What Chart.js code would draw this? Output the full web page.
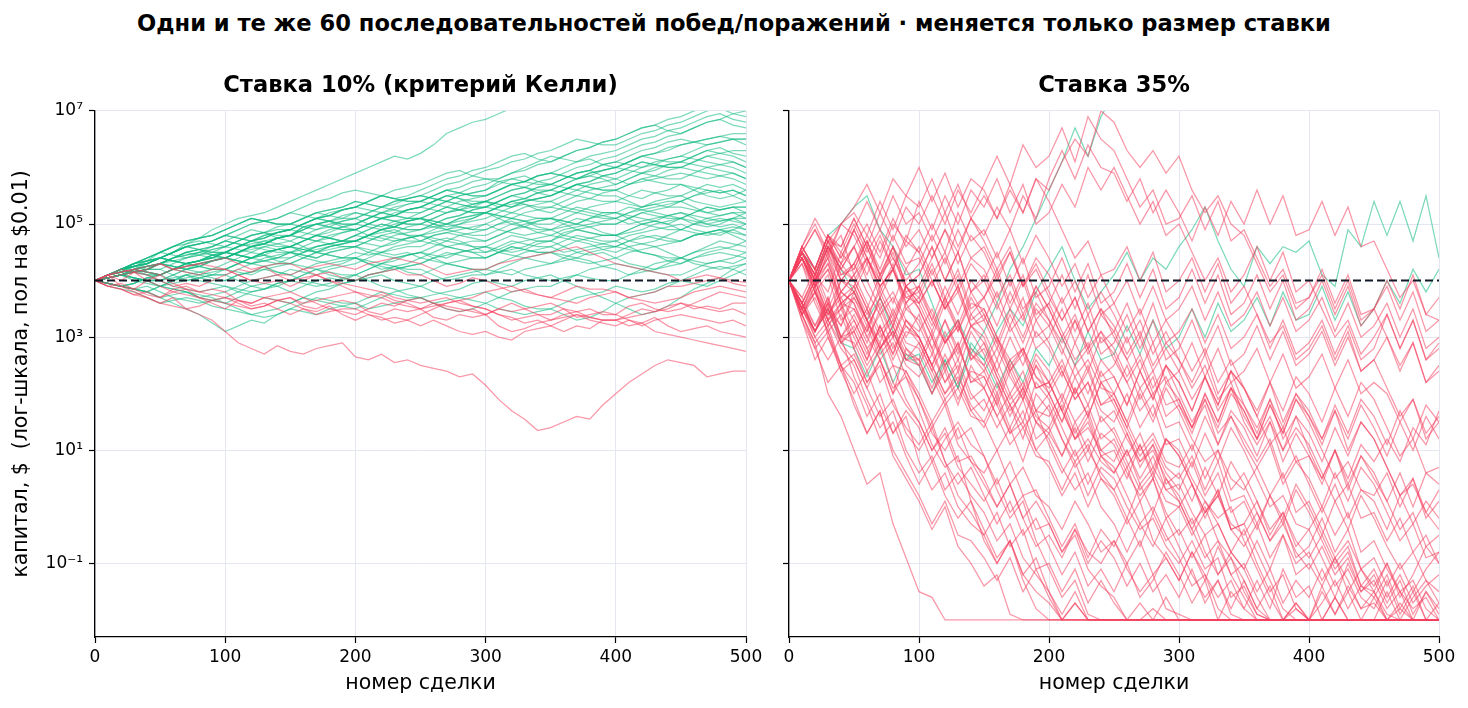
<!DOCTYPE html>
<html>
<head>
<meta charset="utf-8">
<script src="https://cdn.jsdelivr.net/npm/chart.js@4.4.1/dist/chart.umd.min.js"></script>
<style>
html,body{margin:0;padding:0;background:#fff;width:1468px;height:708px;overflow:hidden;}
#suptitle{position:absolute;left:0;top:8px;width:1468px;text-align:center;font-family:"DejaVu Sans";font-weight:bold;font-size:22.6px;line-height:30px;color:#000;white-space:nowrap;}
.wrap{position:absolute;top:60px;height:648px;}
#w1{left:0;width:772px;}
#w2{left:752px;width:716px;}
canvas{display:block;}
</style>
</head>
<body>
<div id="suptitle">Одни и те же 60 последовательностей побед/поражений · меняется только размер ставки</div>
<div class="wrap" id="w1"><canvas id="c1" width="772" height="648"></canvas></div>
<div class="wrap" id="w2"><canvas id="c2" width="716" height="648"></canvas></div>
<script>
// ---- data (read / estimated from the picture) ----
const tradeNumbers = [0,10,20,30,40,50,60,70,80,90,100,110,120,130,140,150,160,170,180,190,200,210,220,230,240,250,260,270,280,290,300,310,320,330,340,350,360,370,380,390,400,410,420,430,440,450,460,470,480,490,500];
const startCapital = 10000;
const yTickExponents = [-1, 1, 3, 5, 7];
const xTicks = [0,100,200,300,400,500];
const panelTitles = ["Ставка 10% (критерий Келли)", "Ставка 35%"];
const xLabel = "номер сделки";
const yLabel = "капитал, $  (лог-шкала, пол на $0.01)";

// log10 of capital at each trade in tradeNumbers, bet 10% (Kelly)
const kellyPaths = [
[4.0, 4.1,3.9,3.8,3.7,3.6, 3.7,3.5,3.4,3.3,3.1, 2.9,2.8,2.7,2.85,2.75, 2.7,2.8,2.85,2.9,2.65, 2.6,2.7,2.55,2.6,2.5, 2.45,2.4,2.3,2.35,2.15, 1.9,1.7,1.55,1.35,1.4, 1.5,1.6,1.55,1.8,2.0, 2.2,2.35,2.5,2.6,2.55, 2.5,2.3,2.35,2.4,2.4],
[4.0, 4.1,4.0,4.15,4.0,3.9, 3.8,3.85,3.7,3.6,3.5, 3.65,3.55,3.6,3.5,3.4, 3.5,3.45,3.55,3.4,3.3, 3.4,3.35,3.25,3.3,3.2, 3.3,3.2,3.1,3.05,3.1, 3.0,2.95,3.1,3.15,3.2, 3.1,3.2,3.15,3.3,3.3, 3.2,3.25,3.1,3.05,3.0, 2.95,2.9,2.85,2.8,2.75],
[4.0, 3.9,3.85,3.75,3.8,3.7, 3.85,3.9,3.8,3.85,3.8, 3.65,3.6,3.7,3.65,3.7, 3.55,3.5,3.6,3.65,3.6, 3.45,3.4,3.5,3.45,3.5, 3.35,3.3,3.4,3.35,3.4, 3.2,3.1,3.15,3.25,3.3, 3.35,3.4,3.3,3.25,3.2, 3.3,3.25,3.35,3.2,3.1, 3.15,3.2,3.1,3.05,3.0],
[4.0, 4.1,4.15,4.2,4.25,4.3, 4.2,4.15,4.1,4.2,4.2, 4.1,4.0,3.95,4.0,3.9, 4.0,4.1,4.0,3.9,3.8, 3.75,3.7,3.6,3.55,3.5, 3.6,3.55,3.5,3.45,3.4, 3.5,3.45,3.5,3.55,3.6, 3.5,3.35,3.4,3.45,3.4, 3.3,3.2,3.3,3.35,3.4, 3.35,3.3,3.25,3.3,3.2],
[4.0, 3.9,3.95,3.85,4.0,4.1, 3.95,3.85,3.8,3.75,3.7, 3.6,3.5,3.55,3.65,3.6, 3.5,3.4,3.45,3.5,3.5, 3.4,3.3,3.35,3.3,3.4, 3.5,3.6,3.65,3.55,3.5, 3.4,3.35,3.25,3.3,3.2, 3.3,3.4,3.35,3.3,3.3, 3.4,3.5,3.45,3.55,3.6, 3.55,3.5,3.45,3.5,3.4],
[4.0, 4.1,4.2,4.15,4.1,4.0, 3.9,3.95,3.9,4.0,4.1, 4.2,4.15,4.25,4.1,4.0, 4.05,4.1,4.0,3.95,3.9, 3.85,3.8,3.7,3.65,3.6, 3.65,3.7,3.6,3.55,3.5, 3.4,3.3,3.35,3.4,3.4, 3.5,3.45,3.35,3.3,3.3, 3.35,3.4,3.45,3.5,3.6, 3.5,3.55,3.5,3.6,3.6],
[4.0, 3.9,3.85,3.75,3.7,3.6, 3.55,3.5,3.55,3.65,3.7, 3.65,3.6,3.7,3.75,3.8, 3.7,3.6,3.5,3.45,3.4, 3.5,3.6,3.55,3.65,3.7, 3.6,3.5,3.45,3.5,3.4, 3.5,3.6,3.5,3.4,3.3, 3.4,3.45,3.5,3.4,3.4, 3.55,3.6,3.5,3.45,3.5, 3.6,3.7,3.8,3.75,3.7],
[4.0, 4.05,4.1,4.15,4.2,4.3, 4.2,4.25,4.3,4.35,4.4, 4.3,4.2,4.25,4.3,4.3, 4.2,4.1,4.15,4.05,4.0, 4.1,4.15,4.2,4.1,4.1, 4.0,3.9,3.95,4.05,4.0, 3.9,3.8,3.85,3.75,3.7, 3.8,3.9,3.85,3.85,3.8, 3.7,3.65,3.6,3.65,3.7, 3.8,3.85,3.9,3.85,3.8],
[4.0, 3.95,3.9,3.85,3.75,3.7, 3.8,3.75,3.7,3.65,3.6, 3.55,3.5,3.55,3.65,3.7, 3.6,3.65,3.7,3.75,3.8, 3.7,3.75,3.65,3.6,3.5, 3.55,3.6,3.65,3.7,3.8, 3.85,3.9,3.8,3.75,3.7, 3.65,3.6,3.7,3.75,3.8, 3.7,3.75,3.8,3.9,3.9, 3.95,4.0,4.05,3.95,3.9],
[4.0, 4.1,4.15,4.2,4.15,4.1, 4.2,4.25,4.3,4.25,4.2, 4.1,4.0,4.05,4.1,4.1, 4.2,4.25,4.3,4.25,4.2, 4.3,4.35,4.4,4.35,4.3, 4.2,4.1,4.15,4.2,4.2, 4.3,4.35,4.4,4.45,4.5, 4.55,4.6,4.5,4.4,4.3, 4.25,4.2,4.15,4.1,4.0, 4.05,4.1,4.05,4.0,3.97],
[4.0, 3.95,3.9,3.85,3.8,3.7, 3.6,3.5,3.4,3.25,3.1, 3.2,3.3,3.25,3.4,3.5, 3.45,3.4,3.5,3.55,3.6, 3.5,3.55,3.6,3.65,3.7, 3.6,3.65,3.7,3.75,3.8, 3.7,3.65,3.55,3.5,3.5, 3.6,3.7,3.75,3.8,3.9, 3.85,3.8,3.85,3.95,4.0, 4.1,4.2,4.25,4.2,4.1],
[4.0, 3.9,3.85,3.8,3.7,3.6, 3.65,3.7,3.65,3.55,3.5, 3.45,3.4,3.45,3.5,3.6, 3.7,3.65,3.6,3.55,3.5, 3.6,3.7,3.8,3.85,3.9, 3.8,3.75,3.7,3.65,3.6, 3.5,3.45,3.4,3.45,3.5, 3.4,3.3,3.35,3.45,3.6, 3.7,3.75,3.8,3.9,4.0, 3.95,3.9,4.0,4.1,4.2],
[4.0, 4.1,4.15,4.2,4.1,4.0, 4.05,4.1,4.0,3.95,3.9, 3.85,3.8,3.85,3.95,4.0, 4.1,4.2,4.15,4.1,4.1, 4.0,3.9,3.85,3.75,3.7, 3.75,3.8,3.85,3.95,4.0, 3.95,3.9,4.0,4.05,4.1, 4.0,3.9,3.8,3.7,3.6, 3.5,3.4,3.45,3.55,3.7, 3.85,3.95,4.05,4.2,4.3],
[4.0, 4.05,4.1,4.15,4.2,4.3, 4.4,4.45,4.5,4.45,4.4, 4.5,4.55,4.6,4.55,4.5, 4.4,4.35,4.3,4.35,4.4, 4.3,4.25,4.2,4.25,4.3, 4.4,4.45,4.5,4.55,4.6, 4.5,4.45,4.4,4.35,4.3, 4.4,4.5,4.45,4.5,4.4, 4.3,4.25,4.2,4.3,4.4, 4.3,4.25,4.2,4.25,4.3],
[4.0, 3.95,3.9,3.95,4.05,4.0, 3.9,3.85,3.8,3.85,3.9, 3.8,3.75,3.7,3.65,3.6, 3.7,3.8,3.85,3.95,4.0, 4.05,4.1,4.0,3.95,3.9, 4.0,4.05,4.1,4.15,4.2, 4.15,4.1,4.2,4.25,4.3, 4.35,4.4,4.35,4.25,4.2, 4.1,4.15,4.2,4.25,4.3, 4.4,4.45,4.5,4.45,4.4],
[4.0, 4.1,4.15,4.25,4.35,4.4, 4.35,4.3,4.35,4.45,4.5, 4.6,4.65,4.7,4.65,4.6, 4.7,4.8,4.75,4.7,4.7, 4.8,4.85,4.9,4.8,4.7, 4.65,4.6,4.55,4.5,4.4, 4.5,4.6,4.55,4.5,4.5, 4.4,4.35,4.3,4.35,4.4, 4.5,4.55,4.6,4.5,4.4, 4.35,4.3,4.35,4.4,4.5],
[4.0, 3.95,3.9,3.85,3.8,3.9, 4.0,4.1,4.05,4.0,4.0, 4.1,4.15,4.2,4.15,4.1, 4.0,3.95,3.9,3.95,4.0, 4.1,4.15,4.25,4.3,4.4, 4.35,4.3,4.25,4.2,4.1, 4.15,4.2,4.1,4.05,4.0, 4.05,4.1,4.2,4.25,4.3, 4.25,4.2,4.3,4.35,4.4, 4.5,4.55,4.6,4.55,4.5],
[4.0, 4.05,4.1,4.05,4.0,3.9, 3.95,4.0,4.05,4.1,4.2, 4.3,4.4,4.45,4.35,4.3, 4.4,4.5,4.45,4.4,4.4, 4.3,4.2,4.25,4.15,4.1, 4.2,4.3,4.25,4.2,4.2, 4.3,4.4,4.5,4.55,4.6, 4.5,4.55,4.6,4.65,4.7, 4.6,4.5,4.45,4.4,4.4, 4.5,4.6,4.7,4.65,4.6],
[4.0, 4.1,4.15,4.2,4.15,4.1, 4.2,4.25,4.3,4.35,4.4, 4.35,4.3,4.35,4.4,4.5, 4.45,4.4,4.5,4.55,4.6, 4.7,4.8,4.75,4.7,4.7, 4.8,4.85,4.9,4.95,5.0, 4.9,4.85,4.8,4.85,4.9, 4.8,4.75,4.7,4.65,4.6, 4.7,4.75,4.8,4.75,4.7, 4.8,4.85,4.9,4.8,4.7],
[4.0, 3.95,3.9,3.85,3.9,3.8, 3.7,3.65,3.6,3.65,3.7, 3.8,3.9,3.85,3.9,3.8, 3.9,4.0,4.05,4.0,4.1, 4.2,4.3,4.25,4.2,4.2, 4.1,4.0,4.05,4.1,4.1, 4.2,4.3,4.4,4.45,4.5, 4.45,4.4,4.5,4.55,4.6, 4.55,4.5,4.45,4.35,4.3, 4.4,4.5,4.55,4.6,4.7],
[4.0, 4.05,4.1,4.2,4.25,4.3, 4.25,4.2,4.25,4.35,4.4, 4.35,4.3,4.25,4.15,4.1, 4.2,4.3,4.35,4.4,4.5, 4.45,4.5,4.55,4.6,4.6, 4.7,4.75,4.7,4.6,4.5, 4.55,4.65,4.7,4.75,4.8, 4.75,4.7,4.65,4.55,4.5, 4.6,4.65,4.7,4.8,4.9, 4.85,4.8,4.85,4.9,4.8],
[4.0, 4.1,4.2,4.15,4.2,4.3, 4.35,4.4,4.5,4.55,4.6, 4.7,4.8,4.85,4.75,4.7, 4.6,4.5,4.55,4.6,4.6, 4.5,4.45,4.4,4.45,4.5, 4.4,4.3,4.35,4.4,4.4, 4.5,4.6,4.55,4.5,4.5, 4.6,4.7,4.75,4.8,4.8, 4.7,4.65,4.6,4.65,4.7, 4.8,4.85,4.9,4.85,4.8],
[4.0, 3.95,3.9,3.95,4.05,4.1, 4.0,4.05,4.1,4.15,4.2, 4.15,4.1,4.2,4.25,4.3, 4.25,4.2,4.1,4.05,4.0, 4.1,4.15,4.2,4.25,4.3, 4.4,4.5,4.45,4.4,4.4, 4.5,4.55,4.6,4.7,4.7, 4.6,4.5,4.55,4.6,4.6, 4.7,4.8,4.75,4.7,4.7, 4.8,4.85,4.9,4.95,4.9],
[4.0, 4.05,4.1,4.05,4.0,4.0, 4.1,4.2,4.15,4.1,4.1, 4.2,4.3,4.35,4.4,4.5, 4.55,4.6,4.65,4.7,4.8, 4.75,4.7,4.8,4.85,4.9, 4.95,5.0,5.05,5.1,5.2, 5.15,5.1,5.05,4.95,4.9, 4.95,5.0,4.95,4.85,4.8, 4.85,4.9,5.0,5.05,5.1, 5.05,5.0,4.95,5.0,4.9],
[4.0, 4.1,4.15,4.2,4.3,4.4, 4.35,4.3,4.35,4.4,4.5, 4.45,4.4,4.5,4.55,4.6, 4.5,4.55,4.6,4.65,4.7, 4.65,4.6,4.7,4.75,4.8, 4.75,4.7,4.8,4.85,4.9, 5.0,5.05,4.95,4.85,4.8, 4.9,4.95,5.0,5.05,5.1, 5.0,5.05,5.1,5.15,5.2, 5.15,5.1,5.05,5.1,5.0],
[4.0, 3.95,3.9,3.85,3.8,3.9, 3.85,3.8,3.7,3.75,3.8, 3.9,4.0,4.05,4.1,4.2, 4.15,4.1,4.2,4.25,4.3, 4.4,4.5,4.45,4.5,4.4, 4.5,4.6,4.55,4.5,4.5, 4.6,4.7,4.65,4.6,4.6, 4.7,4.8,4.75,4.7,4.7, 4.8,4.85,4.9,4.95,5.0, 4.9,4.85,4.8,4.9,5.0],
[4.0, 4.05,4.1,4.2,4.25,4.3, 4.4,4.45,4.5,4.6,4.7, 4.65,4.6,4.65,4.75,4.8, 4.9,5.0,5.05,4.95,4.9, 4.8,4.75,4.7,4.75,4.8, 4.7,4.6,4.65,4.7,4.7, 4.8,4.9,4.95,5.05,5.1, 5.05,5.0,5.1,5.15,5.2, 5.15,5.1,5.05,5.0,4.9, 5.0,5.05,5.1,5.05,5.0],
[4.0, 4.1,4.15,4.2,4.15,4.1, 4.2,4.3,4.25,4.2,4.2, 4.3,4.4,4.35,4.3,4.3, 4.4,4.5,4.45,4.4,4.4, 4.5,4.6,4.65,4.75,4.8, 4.85,4.9,4.85,4.8,4.8, 4.9,5.0,4.95,4.9,4.9, 5.0,5.1,5.05,5.0,5.0, 5.1,5.2,5.25,5.3,5.3, 5.25,5.2,5.15,5.2,5.1],
[4.0, 4.05,4.1,4.15,4.2,4.2, 4.1,4.0,4.05,4.1,4.1, 4.0,3.9,3.95,3.9,4.0, 4.1,4.2,4.25,4.3,4.4, 4.35,4.3,4.4,4.45,4.5, 4.6,4.7,4.65,4.6,4.6, 4.7,4.8,4.75,4.7,4.7, 4.85,4.9,4.85,4.8,4.8, 4.9,5.0,5.05,5.15,5.2, 5.1,5.0,5.05,5.1,5.1],
[4.0, 4.1,4.2,4.3,4.35,4.5, 4.6,4.65,4.7,4.65,4.6, 4.7,4.8,4.85,4.9,4.9, 5.0,5.1,5.05,5.0,5.0, 5.1,5.2,5.15,5.1,5.1, 5.0,4.9,4.95,4.9,5.0, 5.1,5.2,5.15,5.1,5.1, 5.2,5.3,5.25,5.2,5.2, 5.1,5.0,5.05,5.0,5.1, 5.2,5.3,5.25,5.3,5.2],
[4.0, 4.05,4.1,4.05,4.0,4.0, 4.1,4.2,4.3,4.35,4.4, 4.35,4.3,4.4,4.45,4.5, 4.45,4.4,4.5,4.55,4.6, 4.55,4.5,4.6,4.65,4.7, 4.8,4.85,4.8,4.75,4.7, 4.8,4.9,5.0,5.05,5.1, 5.05,5.0,5.1,5.2,5.2, 5.3,5.25,5.2,5.15,5.1, 5.0,4.95,5.0,5.1,5.2],
[4.0, 4.1,4.2,4.3,4.35,4.4, 4.5,4.6,4.55,4.5,4.5, 4.6,4.7,4.75,4.85,4.9, 4.85,4.8,4.9,4.95,5.0, 4.95,4.9,5.0,5.05,5.1, 5.2,5.3,5.25,5.2,5.2, 5.1,5.0,5.05,5.1,5.1, 5.0,4.9,4.95,5.0,5.0, 5.1,5.2,5.15,5.1,5.1, 5.2,5.3,5.25,5.3,5.3],
[4.0, 3.95,3.9,3.95,4.05,4.1, 4.2,4.3,4.25,4.2,4.2, 4.3,4.4,4.45,4.55,4.6, 4.55,4.5,4.6,4.65,4.7, 4.8,4.9,4.85,4.8,4.8, 4.9,5.0,4.95,4.9,4.9, 5.0,5.1,5.05,5.0,5.0, 5.1,5.2,5.15,5.1,5.1, 5.2,5.3,5.35,5.4,5.4, 5.3,5.2,5.25,5.3,5.3],
[4.0, 4.1,4.2,4.15,4.1,4.1, 4.2,4.3,4.35,4.4,4.5, 4.45,4.4,4.5,4.55,4.6, 4.7,4.8,4.75,4.7,4.7, 4.8,4.9,4.95,5.05,5.1, 5.05,5.0,5.1,5.15,5.2, 5.15,5.1,5.2,5.25,5.3, 5.25,5.2,5.3,5.35,5.4, 5.35,5.3,5.4,5.45,5.5, 5.4,5.35,5.3,5.35,5.4],
[4.0, 4.1,4.15,4.2,4.25,4.3, 4.2,4.15,4.1,4.05,4.0, 4.1,4.15,4.25,4.3,4.4, 4.5,4.6,4.65,4.7,4.8, 4.9,5.0,4.95,4.9,4.9, 5.0,5.1,5.15,5.25,5.3, 5.25,5.2,5.3,5.35,5.4, 5.3,5.25,5.2,5.15,5.1, 5.2,5.25,5.3,5.35,5.4, 5.5,5.55,5.6,5.5,5.4],
[4.0, 4.1,4.2,4.3,4.4,4.5, 4.45,4.4,4.45,4.5,4.6, 4.7,4.8,4.85,4.95,5.0, 4.95,4.9,5.0,5.05,5.1, 5.2,5.3,5.25,5.2,5.2, 5.3,5.4,5.35,5.3,5.3, 5.4,5.5,5.45,5.4,5.4, 5.5,5.6,5.55,5.5,5.5, 5.4,5.3,5.35,5.3,5.4, 5.5,5.6,5.55,5.6,5.5],
[4.0, 4.1,4.15,4.2,4.15,4.1, 4.2,4.25,4.3,4.35,4.4, 4.5,4.6,4.55,4.5,4.5, 4.6,4.7,4.65,4.6,4.6, 4.7,4.8,4.85,4.95,5.0, 4.95,4.9,5.0,5.05,5.1, 5.2,5.3,5.35,5.25,5.2, 5.3,5.4,5.45,5.55,5.6, 5.5,5.45,5.55,5.6,5.7, 5.65,5.6,5.55,5.6,5.5],
[4.0, 4.05,4.1,4.15,4.2,4.3, 4.4,4.5,4.55,4.6,4.7, 4.8,4.9,4.85,4.8,4.8, 4.9,5.0,5.05,5.1,5.2, 5.15,5.1,5.2,5.25,5.3, 5.25,5.2,5.3,5.35,5.4, 5.35,5.3,5.4,5.45,5.5, 5.6,5.7,5.65,5.6,5.6, 5.7,5.8,5.75,5.7,5.7, 5.6,5.5,5.45,5.5,5.6],
[4.0, 4.1,4.2,4.3,4.35,4.4, 4.35,4.3,4.35,4.45,4.5, 4.6,4.7,4.65,4.6,4.6, 4.7,4.8,4.85,4.95,5.0, 5.1,5.2,5.15,5.1,5.1, 5.0,4.95,5.0,5.1,5.2, 5.3,5.4,5.35,5.3,5.3, 5.4,5.5,5.45,5.4,5.4, 5.5,5.6,5.55,5.5,5.5, 5.6,5.7,5.65,5.7,5.6],
[4.0, 4.1,4.2,4.25,4.2,4.2, 4.3,4.4,4.45,4.55,4.6, 4.55,4.5,4.6,4.65,4.7, 4.8,4.9,4.95,5.05,5.1, 5.0,4.95,5.05,5.1,5.2, 5.3,5.4,5.35,5.3,5.3, 5.4,5.5,5.55,5.65,5.7, 5.65,5.6,5.7,5.75,5.8, 5.7,5.75,5.8,5.85,5.9, 5.85,5.8,5.85,5.8,5.7],
[4.0, 4.1,4.15,4.25,4.3,4.4, 4.5,4.6,4.65,4.7,4.8, 4.9,5.0,5.05,5.1,5.2, 5.15,5.1,5.2,5.25,5.3, 5.4,5.5,5.45,5.4,5.4, 5.5,5.6,5.55,5.5,5.5, 5.6,5.7,5.65,5.6,5.6, 5.7,5.8,5.85,5.8,5.7, 5.8,5.9,5.85,5.8,5.8, 5.9,6.0,5.95,5.9,5.8],
[4.0, 4.05,4.1,4.2,4.25,4.3, 4.4,4.5,4.55,4.45,4.4, 4.5,4.6,4.65,4.75,4.8, 4.95,5.0,4.95,4.9,4.9, 5.0,5.1,5.15,5.25,5.3, 5.4,5.5,5.45,5.35,5.4, 5.3,5.35,5.4,5.45,5.5, 5.6,5.7,5.65,5.6,5.6, 5.7,5.8,5.85,5.95,6.0, 5.95,5.9,5.85,5.9,5.8],
[4.0, 4.1,4.2,4.25,4.3,4.4, 4.5,4.6,4.65,4.7,4.8, 4.75,4.7,4.8,4.85,4.9, 5.0,5.1,5.15,5.25,5.3, 5.25,5.2,5.3,5.35,5.4, 5.5,5.6,5.55,5.5,5.5, 5.6,5.7,5.75,5.85,5.9, 5.85,5.8,5.9,5.95,6.0, 5.95,5.9,6.0,6.05,6.1, 6.05,6.0,6.05,6.0,5.9],
[4.0, 4.1,4.2,4.3,4.4,4.5, 4.6,4.7,4.75,4.8,4.9, 5.0,5.1,5.05,5.0,5.0, 5.1,5.2,5.25,5.3,5.4, 5.35,5.3,5.4,5.45,5.5, 5.45,5.4,5.5,5.55,5.6, 5.7,5.8,5.85,5.75,5.7, 5.8,5.9,5.95,5.85,5.8, 5.9,6.0,6.05,6.15,6.2, 6.15,6.1,6.05,6.1,6.0],
[4.0, 4.05,4.1,4.15,4.2,4.3, 4.25,4.2,4.25,4.35,4.4, 4.5,4.6,4.65,4.75,4.8, 4.75,4.7,4.75,4.85,4.9, 5.0,5.1,5.05,5.0,5.0, 5.1,5.2,5.25,5.3,5.4, 5.5,5.6,5.65,5.55,5.5, 5.6,5.7,5.75,5.85,5.9, 6.0,6.1,6.05,6.0,6.0, 6.1,6.2,6.15,6.1,6.0],
[4.0, 4.1,4.2,4.25,4.3,4.4, 4.5,4.6,4.55,4.5,4.5, 4.6,4.7,4.75,4.85,4.9, 5.0,5.1,5.05,5.0,5.0, 5.1,5.2,5.25,5.35,5.4, 5.35,5.3,5.4,5.45,5.5, 5.6,5.7,5.75,5.85,5.9, 5.85,5.8,5.9,5.95,6.0, 6.1,6.2,6.15,6.1,6.1, 6.2,6.3,6.25,6.2,6.1],
[4.0, 4.1,4.15,4.2,4.15,4.1, 4.2,4.3,4.35,4.4,4.5, 4.45,4.4,4.5,4.55,4.6, 4.7,4.8,4.75,4.7,4.7, 4.8,4.9,4.95,5.05,5.1, 5.05,5.0,5.1,5.15,5.2, 5.3,5.4,5.45,5.55,5.6, 5.55,5.5,5.6,5.65,5.7, 5.8,5.9,5.95,6.05,6.1, 6.2,6.3,6.35,6.25,6.2],
[4.0, 4.05,4.1,4.15,4.2,4.3, 4.4,4.5,4.45,4.4,4.4, 4.5,4.6,4.65,4.75,4.8, 4.75,4.7,4.8,4.85,4.9, 5.0,5.1,5.05,5.0,5.0, 5.1,5.2,5.25,5.35,5.4, 5.35,5.3,5.4,5.45,5.5, 5.6,5.7,5.75,5.85,5.9, 6.0,6.1,6.05,6.0,6.0, 6.1,6.2,6.25,6.3,6.3],
[4.0, 4.1,4.2,4.25,4.3,4.4, 4.5,4.6,4.65,4.7,4.8, 4.9,5.0,5.05,5.1,5.2, 5.3,5.4,5.45,5.55,5.6, 5.55,5.5,5.6,5.65,5.7, 5.8,5.9,5.95,5.85,5.8, 5.75,5.7,5.75,5.85,5.9, 6.0,6.1,6.15,6.05,6.0, 6.1,6.2,6.25,6.3,6.4, 6.45,6.5,6.55,6.5,6.4],
[4.0, 4.05,4.1,4.0,3.95,3.9, 4.0,4.1,4.15,4.2,4.3, 4.4,4.5,4.45,4.4,4.4, 4.5,4.6,4.65,4.7,4.8, 4.9,5.0,4.95,4.9,4.9, 5.0,5.1,5.15,5.25,5.3, 5.4,5.5,5.55,5.65,5.7, 5.8,5.9,5.95,6.05,6.1, 6.05,6.0,6.1,6.15,6.2, 6.3,6.4,6.45,6.5,6.5],
[4.0, 4.1,4.2,4.3,4.4,4.5, 4.6,4.7,4.75,4.8,4.9, 5.0,5.1,5.05,5.0,5.0, 5.1,5.2,5.25,5.3,5.4, 5.35,5.3,5.4,5.45,5.5, 5.45,5.4,5.5,5.55,5.6, 5.75,5.8,5.75,5.7,5.7, 5.8,5.9,5.95,6.05,6.1, 6.2,6.3,6.35,6.45,6.5, 6.45,6.4,6.45,6.5,6.5],
[4.0, 4.1,4.2,4.15,4.1,4.1, 4.2,4.3,4.35,4.4,4.5, 4.45,4.4,4.5,4.55,4.6, 4.55,4.5,4.6,4.65,4.7, 4.8,4.9,4.95,5.05,5.1, 5.2,5.3,5.25,5.2,5.2, 5.3,5.4,5.45,5.55,5.6, 5.7,5.8,5.85,5.95,6.0, 6.1,6.2,6.25,6.35,6.4, 6.45,6.5,6.55,6.6,6.6],
[4.0, 4.05,4.1,4.2,4.25,4.3, 4.4,4.5,4.55,4.6,4.7, 4.65,4.6,4.7,4.75,4.8, 4.95,5.0,4.95,4.9,4.9, 5.0,5.1,5.15,5.25,5.3, 5.4,5.5,5.45,5.4,5.4, 5.5,5.6,5.65,5.75,5.8, 5.9,6.0,6.05,6.15,6.2, 6.3,6.4,6.45,6.55,6.6, 6.7,6.8,6.85,6.75,6.7],
[4.0, 4.1,4.2,4.25,4.3,4.4, 4.35,4.3,4.35,4.45,4.5, 4.6,4.7,4.75,4.85,4.9, 5.0,5.1,5.15,5.25,5.3, 5.4,5.5,5.45,5.4,5.4, 5.5,5.6,5.65,5.75,5.8, 5.8,5.9,6.0,6.1,6.2, 6.15,6.1,6.2,6.25,6.3, 6.4,6.5,6.55,6.65,6.7, 6.8,6.9,6.95,6.85,6.8],
[4.0, 4.1,4.2,4.3,4.4,4.5, 4.6,4.7,4.75,4.8,4.9, 5.0,5.1,5.05,5.0,5.0, 5.1,5.2,5.15,5.1,5.1, 5.2,5.3,5.35,5.45,5.5, 5.6,5.7,5.75,5.85,5.95, 6.0,6.1,6.15,6.25,6.3, 6.4,6.5,6.45,6.4,6.4, 6.5,6.6,6.65,6.75,6.8, 6.9,7.0,7.05,6.95,6.9],
[4.0, 4.1,4.2,4.25,4.3,4.4, 4.5,4.6,4.65,4.7,4.8, 4.75,4.7,4.8,4.85,4.9, 5.0,5.1,5.15,5.25,5.3, 5.4,5.5,5.45,5.5,5.6, 5.7,5.8,5.85,5.95,6.0, 6.1,6.2,6.25,6.15,6.1, 6.2,6.3,6.35,6.45,6.5, 6.6,6.7,6.75,6.65,6.6, 6.7,6.8,6.85,6.95,7.0],
[4.0, 4.05,4.1,4.15,4.2,4.3, 4.25,4.2,4.25,4.35,4.4, 4.5,4.6,4.65,4.75,4.8, 4.9,5.0,5.05,5.15,5.2, 5.15,5.1,5.15,5.25,5.3, 5.4,5.5,5.55,5.65,5.7, 5.8,5.9,5.95,6.05,6.1, 6.2,6.3,6.35,6.45,6.5, 6.6,6.7,6.75,6.85,6.9, 7.0,7.05,7.1,7.15,7.1],
[4.0, 3.95,3.9,3.85,3.8,3.7, 3.75,3.8,3.75,3.7,3.6, 3.7,3.8,3.85,3.95,4.0, 3.95,3.9,3.95,4.05,4.1, 4.2,4.3,4.35,4.45,4.5, 4.45,4.4,4.5,4.55,4.6, 4.55,4.5,4.55,4.65,4.7, 4.8,4.9,4.85,4.8,4.8, 4.9,5.0,4.95,4.9,4.9, 5.0,5.1,5.15,5.2,5.2],
[4.0, 4.05,4.1,4.05,4.0,3.9, 3.85,3.8,3.7,3.65,3.6, 3.5,3.4,3.35,3.4,3.5, 3.6,3.7,3.65,3.6,3.6, 3.7,3.8,3.75,3.7,3.7, 3.6,3.5,3.45,3.5,3.6, 3.7,3.8,3.85,3.9,3.9, 4.0,4.1,4.05,4.0,4.0, 4.1,4.2,4.15,4.1,4.1, 4.2,4.3,4.35,4.3,4.4],
[4.0, 4.1,4.2,4.25,4.35,4.4, 4.5,4.65,4.75,4.9,5.0, 5.1,5.15,5.2,5.3,5.4, 5.5,5.6,5.7,5.8,5.9, 6.0,6.1,6.2,6.15,6.25, 6.4,6.6,6.7,6.8,6.85, 6.95,7.05,7.1,7.2,7.3, 7.4,7.45,7.5,7.55,7.6, 7.7,7.75,7.8,7.85,7.9, 7.95,8.0,8.0,8.05,8.0]
];

// log10 of capital at each trade in tradeNumbers, bet 35% (shown with a floor at $0.01 = 10^-2)
const bet35Paths = [
[4.0, 3.4,2.9,2.0,1.6,1.0, 0.4,0.6,-0.3,-0.9,-1.5, -1.6,-2,-2,-2,-2, -2,-2,-2,-2,-2, -2,-2,-2,-2,-2, -2,-2,-2,-2,-2, -2,-2,-2,-2,-2, -2,-2,-2,-2,-2, -2,-2,-2,-2,-2, -2,-2,-2,-2,-2],
[4.0, 3.5,3.9,3.0,2.4,1.9, 1.3,1.7,0.9,0.5,0.1, -0.4,0.0,-0.7,-1.0,-1.4, -1.2,-1.9,-2,-2,-2, -2,-2,-2,-2,-2, -2,-2,-2,-2,-2, -2,-2,-2,-2,-2, -2,-2,-2,-2,-2, -2,-2,-2,-2,-2, -2,-2,-2,-2,-2],
[4.0, 4.3,3.6,3.1,3.4,2.8, 2.2,2.5,1.8,1.4,1.1, 1.5,0.8,0.2,-0.1,-0.5, -1.0,-0.6,-1.3,-1.8,-2, -2,-2,-2,-2,-2, -2,-2,-2,-2,-2, -2,-2,-2,-2,-2, -2,-2,-2,-2,-2, -2,-2,-2,-2,-2, -2,-2,-2,-2,-2],
[4.0, 3.3,2.6,3.0,2.5,2.2, 1.6,2.0,1.3,1.7,1.4, 0.8,1.2,1.5,1.1,0.9, 0.3,-0.2,0.1,-0.6,-1.1, -1.6,-1.3,-1.9,-2,-2, -2,-2,-2,-2,-2, -2,-2,-2,-2,-2, -2,-2,-2,-2,-2, -2,-2,-2,-2,-2, -2,-2,-2,-2,-2],
[4.0, 3.6,3.0,3.3,2.8,2.5, 1.9,1.4,1.7,1.0,0.6, 0.9,0.3,0.6,0.2,-0.1, -0.6,-0.3,-0.9,-1.2,-1.5, -2,-1.7,-2,-2,-2, -2,-2,-2,-2,-2, -2,-2,-2,-2,-2, -2,-2,-2,-2,-2, -2,-2,-2,-2,-2, -2,-2,-2,-2,-2],
[4.0, 4.4,3.8,3.4,3.7,3.3, 2.8,2.2,2.5,1.9,1.5, 1.0,1.3,0.7,0.4,0.1, 0.5,-0.1,0.2,-0.4,-0.3, -0.8,-0.5,-1.1,-1.4,-1.6, -2,-2,-2,-2,-2, -2,-2,-2,-2,-2, -2,-2,-2,-2,-2, -2,-2,-2,-2,-2, -2,-2,-2,-2,-2],
[4.0, 3.5,4.0,3.4,3.8,3.6, 3.0,2.6,2.1,2.3,1.7, 1.1,0.7,0.9,0.1,-0.4, -0.9,-0.6,-1.2,-1.5,-1.7, -2,-2,-2,-2,-2, -2,-2,-2,-2,-2, -2,-2,-2,-2,-2, -2,-2,-2,-2,-2, -2,-2,-2,-2,-2, -2,-2,-2,-2,-2],
[4.0, 3.4,3.7,3.1,2.5,2.7, 2.2,2.6,2.0,2.4,1.9, 1.3,1.0,1.4,0.8,0.4, 0.0,0.4,-0.2,-0.7,-0.5, -0.9,-0.4,-0.8,-1.0,-0.6, -1.1,-1.5,-1.2,-1.8,-1.9, -2,-2,-2,-2,-2, -2,-2,-2,-2,-2, -2,-2,-2,-2,-2, -2,-2,-2,-2,-2],
[4.0, 4.3,3.8,4.1,3.3,3.5, 3.0,3.4,2.8,3.2,2.9, 2.4,2.9,3.3,2.6,2.9, 2.3,1.8,1.4,1.7,1.1, 0.6,1.0,0.4,0.9,0.7, 0.2,-0.3,0.0,-0.5,-0.9, -1.4,-1.2,-1.8,-2,-2, -2,-2,-2,-2,-2, -2,-2,-2,-2,-2, -2,-2,-2,-2,-2],
[4.0, 4.5,4.1,4.7,4.0,4.3, 3.8,3.4,3.7,3.2,3.0, 2.5,2.0,2.3,1.8,1.5, 1.0,1.4,0.8,1.5,1.2, 0.7,0.3,0.6,0.0,-0.3, -0.8,-0.3,-0.7,-0.2,-0.7, -1.2,-1.6,-1.3,-1.9,-2, -2,-2,-2,-2,-2, -2,-2,-2,-2,-2, -2,-2,-2,-2,-2],
[4.0, 4.6,5.0,4.5,4.8,4.1, 4.4,3.9,4.2,3.6,3.9, 3.3,2.9,3.2,2.7,2.4, 2.8,2.3,1.9,2.5,2.2, 1.7,1.2,1.5,0.9,0.6, 1.0,0.4,0.7,0.3,0.1, -0.4,0.1,-0.3,-0.8,-0.4, -1.0,-1.5,-1.2,-1.8,-2, -2,-2,-2,-2,-2, -2,-2,-2,-2,-2],
[4.0, 3.5,3.1,3.5,3.0,2.9, 2.4,2.8,3.2,2.7,2.6, 2.0,2.5,1.9,2.4,2.3, 1.8,1.3,1.5,1.0,0.7, 0.2,0.6,0.0,0.5,0.3, -0.2,0.4,-0.1,0.5,0.1, -0.4,-0.9,-0.6,-1.2,-1.6, -2,-2,-2,-2,-2, -2,-2,-2,-2,-2, -2,-2,-2,-2,-2],
[4.0, 4.5,4.0,4.4,3.6,3.8, 3.3,2.9,3.5,3.0,3.4, 2.8,2.2,2.6,2.0,1.7, 2.2,1.6,2.1,1.5,1.8, 1.2,0.8,1.1,0.5,0.2, -0.3,0.1,-0.6,-0.9,-1.3, -0.8,-1.2,-1.6,-1.3,-1.8, -2,-2,-2,-2,-2, -2,-2,-2,-2,-2, -2,-2,-2,-2,-2],
[4.0, 3.6,4.0,3.3,2.9,3.1, 3.5,2.8,3.2,2.6,2.9, 2.4,1.9,2.2,1.7,1.4, 1.9,1.3,1.7,1.0,1.3, 0.9,1.4,0.8,1.3,1.1, 0.6,0.2,0.5,-0.1,-0.5, -0.2,-0.8,-1.2,-0.9,-1.5, -1.9,-2,-2,-2,-2, -2,-2,-2,-2,-2, -2,-2,-2,-2,-2],
[4.0, 4.4,4.0,4.6,4.2,4.6, 4.0,3.5,3.8,3.3,3.1, 3.5,2.9,3.3,2.6,2.8, 2.3,1.8,2.1,1.6,1.4, 1.9,1.3,1.7,1.0,1.2, 0.7,1.1,0.5,1.2,0.9, 0.4,-0.1,0.3,-0.4,-0.7, -0.3,-0.9,-0.5,-1.2,-1.0, -1.4,-0.9,-1.3,-1.8,-1.5, -2,-1.7,-2,-2,-2],
[4.0, 3.4,3.8,3.3,3.5,3.9, 3.3,2.7,3.0,2.5,2.3, 2.7,2.2,2.5,1.9,2.1, 1.6,2.0,1.5,2.2,1.9, 1.4,0.9,1.2,0.8,0.6, 1.0,0.5,0.9,0.3,0.4, -0.1,-0.5,-0.3,-0.8,-1.1, -1.6,-2,-2,-1.7,-2, -1.4,-1.9,-1.5,-2,-1.6, -2,-2,-2,-2,-2],
[4.0, 4.5,4.2,4.8,4.6,5.1, 4.6,4.1,4.4,3.9,3.6, 4.0,3.5,3.9,3.3,3.5, 3.0,2.6,2.8,2.3,2.0, 2.4,1.9,2.2,1.5,1.7, 1.2,0.8,1.0,0.5,0.2, -0.3,0.0,-0.6,-0.9,-1.3, -1.8,-2,-2,-2,-2, -2,-2,-2,-2,-2, -2,-2,-2,-2,-2],
[4.0, 3.6,3.1,3.6,2.9,3.2, 2.7,3.2,2.6,3.1,3.0, 2.5,2.0,2.4,1.7,1.9, 1.4,1.8,1.2,2.0,1.7, 1.2,0.7,1.0,0.6,0.3, 0.7,0.1,0.5,-0.2,0.0, -0.5,-0.1,0.2,-0.4,-0.3, -0.8,-1.3,-1.8,-2,-2, -1.7,-1.3,-1.8,-1.4,-1.5, -1.9,-2,-2,-2,-2],
[4.0, 3.4,2.8,3.1,2.4,2.6, 2.1,2.6,2.0,2.8,2.5, 2.0,2.4,1.8,2.5,2.1, 1.6,1.1,1.4,0.9,0.8, 0.3,0.8,0.2,0.7,0.5, 0.0,-0.4,-0.2,-0.7,-1.0, -0.6,-1.1,-0.9,-1.6,-1.4, -1.9,-2,-2,-2,-2, -2,-2,-2,-2,-2, -2,-2,-2,-2,-2],
[4.0, 4.4,3.9,4.2,3.5,3.7, 3.2,3.6,3.0,3.5,3.3, 2.8,3.3,2.7,3.2,3.0, 2.4,1.9,2.2,1.7,1.6, 2.0,1.5,1.8,1.2,1.4, 0.9,1.3,0.7,1.2,1.0, 0.5,0.1,-0.2,0.0,-0.6, -1.1,-1.6,-2,-1.8,-2, -1.5,-1.9,-1.4,-1.8,-1.7, -2,-2,-2,-2,-2],
[4.0, 3.6,3.1,3.5,2.9,2.6, 2.1,1.6,1.9,1.3,1.0, 1.4,0.8,0.4,0.7,0.2, -0.3,0.1,-0.5,-0.2,-0.7, -1.2,-0.8,-1.4,-1.1,-1.5, -1.0,-1.6,-1.3,-0.8,-1.2, -1.7,-1.3,-2,-1.5,-1.8, -1.3,-1.8,-1.1,-1.6,-1.4, -2,-1.6,-2,-2,-2, -1.5,-2,-1.6,-1.3,-1.7],
[4.0, 4.4,4.0,4.3,3.7,3.9, 3.4,3.8,3.3,3.9,3.7, 3.2,3.7,3.1,3.6,3.5, 3.0,2.5,2.8,2.3,2.1, 2.5,2.0,2.4,1.8,1.9, 1.4,2.0,1.5,2.1,1.7, 1.2,0.8,1.0,0.5,0.3, 0.7,0.2,0.6,-0.1,0.1, -0.4,-0.9,-0.6,-1.1,-1.4, -1.0,-1.5,-1.8,-1.6,-2],
[4.0, 3.5,3.0,2.6,3.0,2.3, 1.8,1.2,1.5,0.9,0.4, 0.8,0.2,-0.2,0.1,-0.6, -1.0,-0.6,-1.2,-0.9,-1.5, -1.9,-1.5,-2,-2,-2, -2,-1.7,-2,-2,-2, -2,-2,-2,-2,-2, -2,-2,-2,-2,-2, -2,-2,-2,-2,-2, -2,-2,-2,-2,-2],
[4.0, 4.5,4.1,4.7,4.2,4.0, 4.4,3.8,4.3,3.6,3.9, 3.4,2.9,3.2,2.7,2.5, 3.0,2.4,2.8,2.1,2.2, 2.6,2.0,2.5,1.8,2.0, 1.5,1.0,1.3,0.8,0.7, 1.1,0.5,1.0,0.3,0.6, 0.1,-0.4,-0.1,-0.6,-0.9, -0.5,-1.0,-0.7,-1.4,-1.1, -1.6,-1.2,-1.7,-1.4,-1.2],
[4.0, 3.4,3.8,3.2,3.5,3.0, 2.5,2.9,2.2,1.8,1.5, 1.0,1.4,0.8,0.9,0.5, 0.0,0.4,-0.2,0.1,-0.3, -0.8,-0.4,-1.0,-0.6,-0.9, -1.4,-1.0,-1.5,-1.2,-1.6, -1.1,-1.7,-1.3,-1.8,-1.3, -1.8,-1.4,-2,-1.7,-2, -2,-1.6,-2,-2,-2, -2,-1.8,-2,-1.5,-1.9],
[4.0, 3.7,4.2,3.6,4.3,4.0, 3.5,3.0,3.3,2.8,2.6, 3.1,2.5,2.9,2.2,2.3, 1.8,2.4,1.9,2.5,2.0, 1.5,2.1,1.6,2.2,1.9, 1.4,0.9,1.2,0.7,0.5, 0.9,0.3,0.8,0.1,0.2, -0.3,0.2,-0.2,0.4,0.0, -0.5,0.1,-0.4,0.2,-0.2, -0.7,-1.1,-0.8,-1.3,-1.5],
[4.0, 3.4,2.9,3.2,2.5,2.0, 2.4,1.8,1.3,1.6,0.8, 0.3,0.6,0.0,-0.3,-0.5, -0.1,-0.7,-0.4,-1.1,-1.0, -1.5,-1.1,-1.7,-1.3,-1.7, -2,-2,-1.8,-2,-2, -2,-2,-2,-2,-2, -2,-2,-2,-2,-2, -2,-2,-2,-2,-2, -2,-2,-2,-2,-2],
[4.0, 3.5,3.8,3.2,3.6,3.1, 2.6,3.2,2.7,3.3,3.0, 2.5,3.0,2.4,3.1,2.7, 2.2,1.7,2.0,1.5,1.3, 1.8,1.2,1.6,0.9,1.0, 0.5,1.1,0.6,1.2,0.9, 0.4,-0.1,0.2,-0.3,-0.5, -0.1,-0.6,-0.2,-0.9,-0.7, -0.2,-0.8,-0.4,-1.1,-0.9, -1.4,-1.0,-1.5,-1.1,-0.8],
[4.0, 4.4,3.8,3.3,3.6,2.8, 3.2,2.6,2.9,2.3,1.9, 1.4,1.8,1.1,0.8,0.6, 1.0,0.4,0.7,0.2,0.0, -0.4,0.1,-0.3,-0.8,-0.6, -1.0,-0.6,-1.2,-0.9,-1.3, -0.8,-1.3,-0.7,-1.2,-1.0, -1.5,-1.1,-1.7,-1.3,-1.6, -1.1,-1.6,-1.0,-1.5,-1.2, -1.7,-1.3,-1.9,-1.5,-1.8],
[4.0, 3.4,3.9,3.3,4.0,3.8, 3.3,2.8,3.1,2.6,2.5, 3.0,2.4,2.9,2.2,2.4, 1.9,2.5,2.0,2.6,2.2, 1.7,1.2,1.4,1.0,0.8, 1.3,0.7,1.1,0.4,0.6, 0.1,0.7,0.2,0.8,0.4, -0.1,-0.6,-0.3,-0.8,-1.1, -0.7,-1.2,-0.9,-1.5,-1.3, -1.8,-1.5,-2,-2,-2],
[4.0, 3.6,3.1,3.7,3.0,3.3, 2.8,3.1,2.5,2.4,2.0, 1.5,1.9,1.2,1.4,0.9, 0.4,0.8,0.2,0.3,-0.2, -0.7,-0.3,-0.9,-0.4,-0.7, -0.2,-0.7,-0.1,-0.6,-0.4, -0.9,-0.5,-1.2,-0.8,-1.1, -0.6,-1.1,-0.5,-1.0,-0.8, -1.3,-0.9,-1.5,-1.1,-1.5, -1.0,-1.6,-1.2,-0.7,-1.0],
[4.0, 4.4,3.9,4.5,3.8,4.1, 3.6,3.1,3.4,2.9,2.8, 2.3,1.8,2.1,1.6,1.5, 2.0,1.4,1.9,1.2,1.4, 0.9,1.5,1.0,1.6,1.3, 0.8,0.3,0.6,0.1,0.0, 0.4,-0.2,0.3,-0.4,-0.3, 0.1,-0.5,-0.1,-0.7,-0.4, -0.9,-1.4,-1.1,-1.6,-1.8, -1.3,-1.9,-1.5,-2,-2],
[4.0, 3.3,2.8,2.2,2.5,1.8, 1.3,1.7,1.0,0.6,0.2, -0.3,0.1,-0.5,-0.6,-0.9, -1.3,-0.9,-1.5,-1.1,-1.6, -2,-1.7,-2,-2,-2, -2,-2,-2,-1.6,-2, -2,-2,-2,-2,-2, -2,-2,-2,-2,-2, -2,-2,-2,-2,-2, -2,-2,-2,-2,-2],
[4.0, 3.6,3.1,3.5,3.2,3.7, 3.3,3.9,3.4,3.9,3.5, 3.0,2.5,2.8,2.3,2.1, 2.6,2.0,2.4,1.7,2.0, 1.5,2.1,1.6,2.2,1.8, 1.3,0.8,1.1,0.6,0.3, 0.8,0.2,0.6,-0.1,0.1, -0.4,0.2,-0.3,0.3,-0.1, -0.6,-1.1,-0.8,-1.4,-1.6, -1.2,-1.8,-1.4,-2,-1.7],
[4.0, 3.7,3.2,3.6,3.0,3.4, 2.9,3.5,3.0,3.6,3.2, 2.7,3.3,2.8,3.4,3.1, 2.6,3.2,2.7,3.3,2.9, 2.4,1.9,2.2,1.7,1.5, 2.0,1.4,1.8,1.1,1.2, 0.7,1.3,0.8,1.4,1.0, 0.5,0.0,0.2,-0.3,-0.4, 0.0,-0.5,-0.1,-0.8,-0.6, -1.1,-1.5,-1.3,-1.8,-2],
[4.0, 4.5,4.1,4.7,4.3,4.6, 5.0,4.5,5.1,4.6,4.9, 4.4,4.9,4.3,4.8,4.5, 4.0,4.5,3.9,4.4,4.1, 3.6,4.0,3.4,3.8,3.4, 2.9,3.3,2.7,3.1,2.6, 2.2,2.7,2.0,2.4,1.8, 1.4,1.9,1.2,1.6,1.0, 0.5,1.0,0.3,0.9,0.5, 0.1,-0.4,-0.1,-0.7,-0.5],
[4.0, 4.4,4.0,4.6,4.3,4.9, 4.4,3.9,4.2,3.7,3.6, 4.0,3.5,3.9,3.2,3.4, 2.9,3.5,3.0,3.6,3.3, 2.8,2.3,2.6,2.1,2.0, 2.5,1.9,2.3,1.6,1.8, 1.3,1.9,1.4,2.0,1.7, 1.2,1.8,1.3,1.9,1.5, 1.0,0.5,0.8,0.3,0.2, 0.6,0.0,0.5,-0.2,0.1],
[4.0, 4.6,4.2,4.8,4.4,4.9, 5.4,4.9,5.5,5.0,5.2, 4.7,5.2,4.6,5.1,4.7, 4.2,4.6,3.9,4.3,3.8, 3.3,3.7,3.1,3.5,3.0, 2.6,3.0,2.4,2.8,2.4, 1.9,2.3,1.7,2.1,1.5, 1.1,1.5,0.8,1.3,0.9, 0.5,1.0,0.4,0.9,0.6, 0.1,0.6,0.0,0.6,0.4],
[4.0, 4.4,3.9,4.2,3.6,3.5, 3.1,3.7,3.2,3.9,3.6, 3.1,3.7,3.2,3.8,3.4, 2.9,2.4,2.7,2.1,2.2, 1.7,2.3,1.8,2.4,2.0, 1.5,2.1,1.6,2.2,1.9, 1.4,2.0,1.5,2.1,1.7, 1.2,1.8,1.3,1.9,1.6, 1.1,1.7,1.2,1.8,1.4, 0.9,1.5,1.0,1.6,1.2],
[4.0, 4.4,3.9,4.5,4.0,4.3, 4.7,4.2,4.8,4.3,4.4, 3.9,4.4,3.8,4.3,4.0, 3.5,4.0,3.4,3.9,3.5, 3.0,3.4,2.8,3.1,2.6, 2.2,2.6,2.0,2.3,1.8, 1.4,1.8,1.1,1.6,1.2, 0.8,1.2,0.5,0.9,0.4, -0.1,0.4,-0.2,0.3,0.1, -0.4,0.2,-0.3,0.1,-0.2],
[4.0, 4.5,4.1,4.6,4.0,4.0, 3.5,4.1,3.6,4.2,3.8, 3.3,3.9,3.4,4.0,3.7, 3.2,3.8,3.3,3.9,3.5, 3.0,2.5,2.8,2.2,2.3, 1.8,2.4,1.9,2.5,2.2, 1.7,2.3,1.8,2.4,2.1, 1.6,2.2,1.7,2.3,2.0, 1.5,2.1,1.6,2.2,1.9, 1.4,0.9,1.2,0.6,0.7],
[4.0, 4.5,4.9,4.4,5.0,4.8, 4.3,4.8,4.2,4.7,4.5, 5.0,4.5,5.2,4.7,4.9, 4.4,4.9,4.3,4.8,4.4, 3.9,4.3,3.7,4.1,3.6, 3.1,3.5,2.9,3.3,2.9, 2.4,2.8,2.2,2.6,2.1, 1.7,2.2,1.5,2.0,1.6, 1.2,1.7,1.0,1.5,1.2, 0.7,0.2,0.4,-0.1,-0.4],
[4.0, 3.5,4.0,3.4,3.8,3.6, 3.1,3.7,3.2,3.8,3.5, 3.0,3.6,3.1,3.7,3.3, 2.8,3.4,2.9,3.5,3.2, 2.7,3.3,2.8,3.4,3.1, 2.6,2.1,2.4,1.8,1.9, 1.4,2.0,1.5,2.1,1.8, 1.3,1.9,1.4,2.0,1.7, 1.2,1.8,1.3,1.9,1.6, 1.1,1.7,1.2,1.8,1.5],
[4.0, 3.6,4.1,3.5,4.0,3.9, 4.4,4.0,4.6,4.2,4.6, 4.1,4.5,3.9,4.4,4.2, 3.7,4.1,3.5,3.8,3.3, 2.9,3.3,2.7,3.1,2.8, 2.3,2.7,2.1,2.5,2.0, 1.5,1.9,1.3,1.6,1.1, 0.7,1.1,0.4,0.8,0.5, 0.0,0.6,0.1,0.7,0.4, -0.1,-0.6,-0.3,-0.9,-0.8],
[4.0, 3.5,3.1,3.6,3.2,3.8, 3.3,2.8,3.1,2.6,2.6, 2.1,2.7,2.2,2.8,2.5, 2.0,2.6,2.1,2.7,2.4, 1.9,2.5,2.0,2.6,2.3, 1.8,2.4,1.9,2.5,2.2, 1.7,2.3,1.8,2.4,2.1, 1.6,1.1,1.4,0.8,0.9, 0.4,1.0,0.5,1.1,0.8, 1.2,0.8,1.4,1.1,1.7],
[4.0, 4.6,4.2,4.8,4.5,5.0, 4.5,4.9,4.4,4.0,4.3, 4.8,4.3,4.9,4.4,4.6, 4.1,4.5,3.9,4.2,3.7, 3.3,3.7,3.1,3.5,3.2, 2.7,3.1,2.5,2.9,2.6, 2.1,2.5,1.9,2.2,1.6, 1.2,1.6,1.0,1.4,1.1, 0.6,0.1,0.4,-0.2,-0.1, -0.6,-0.2,-0.8,-0.5,-1.0],
[4.0, 3.6,3.2,3.7,3.0,3.1, 2.6,3.2,2.7,3.3,3.0, 2.5,3.1,2.6,3.2,2.9, 2.4,3.0,2.5,3.1,2.8, 2.3,2.9,2.4,3.0,2.7, 2.2,1.7,2.0,1.4,1.5, 1.0,1.6,1.1,1.7,1.4, 0.9,1.5,1.0,1.6,1.3, 0.8,1.4,0.9,1.5,1.2, 0.7,0.2,0.5,-0.1,0.3],
[4.0, 4.5,4.0,4.6,4.1,4.2, 4.7,4.1,4.6,3.9,4.1, 4.6,4.0,4.5,3.8,4.0, 4.5,3.9,4.4,3.7,3.9, 4.4,3.8,4.3,3.6,3.8, 4.3,3.7,4.2,3.5,3.7, 4.2,3.6,4.1,3.4,3.6, 4.1,3.5,4.0,3.3,3.5, 4.0,3.4,3.9,3.2,3.5, 4.0,3.5,4.1,3.4,3.7],
[4.0, 4.6,4.2,4.8,4.4,4.9, 4.4,3.9,4.2,3.7,3.8, 4.3,3.7,4.2,3.5,3.7, 4.2,3.6,4.1,3.4,3.6, 4.1,3.5,4.1,3.4,3.6, 4.0,3.4,3.9,3.3,3.5, 3.9,3.3,3.8,3.2,3.4, 3.8,3.2,3.7,3.1,3.3, 3.7,3.1,3.6,3.0,3.2, 3.6,3.0,3.5,2.8,3.0],
[4.0, 3.6,4.1,3.8,4.5,4.2, 4.7,4.1,4.6,3.9,4.1, 4.6,4.0,4.5,3.8,4.1, 3.6,3.1,3.4,2.8,3.0, 3.5,2.9,3.4,2.7,2.9, 3.4,2.8,3.3,2.6,2.8, 3.3,2.7,3.2,2.5,2.7, 3.2,2.6,3.1,2.5,2.7, 3.1,2.5,3.0,2.4,2.6, 3.0,2.4,2.9,2.2,2.4],
[4.0, 4.4,3.9,4.3,3.6,3.8, 4.3,3.7,4.2,3.5,3.7, 4.2,3.6,4.1,3.4,3.7, 4.1,3.5,4.0,3.3,3.6, 3.1,2.6,2.9,2.3,2.5, 3.0,2.4,2.9,2.2,2.4, 2.9,2.3,2.8,2.2,2.4, 2.8,2.2,2.7,2.1,2.3, 2.7,2.1,2.6,2.0,2.2, 2.0,1.5,1.9,1.3,1.6],
[4.0, 4.5,4.0,4.6,4.2,4.6, 4.1,4.7,4.2,4.8,4.5, 4.0,3.5,3.8,3.2,3.3, 3.8,3.2,3.7,3.0,3.2, 3.7,3.1,3.6,2.9,3.1, 3.6,3.0,3.6,2.9,3.1, 3.5,2.9,3.4,2.8,3.0, 3.4,2.8,3.3,2.7,2.9, 3.3,2.7,3.2,2.6,2.8, 3.4,2.8,3.3,2.6,2.9],
[4.0, 4.6,5.1,4.7,5.0,5.3, 5.7,5.2,5.8,5.5,6.0, 5.4,5.9,5.3,5.8,5.6, 5.1,5.7,5.2,5.8,5.4, 4.9,4.4,4.7,4.1,4.2, 4.6,4.0,4.5,3.8,4.0, 4.4,3.8,4.3,3.6,3.9, 3.4,2.9,3.2,2.6,2.8, 3.2,2.6,3.1,2.4,2.6, 2.1,1.6,1.9,1.2,1.5],
[4.0, 4.5,4.1,4.7,4.6,5.1, 4.6,5.2,4.7,5.3,5.0, 5.5,5.0,5.6,5.2,5.7, 6.2,5.7,6.4,6.0,6.2, 6.7,6.1,6.9,6.5,6.3, 5.8,5.3,5.6,5.0,5.1, 5.5,4.9,5.4,4.7,4.9, 4.4,3.9,4.2,3.6,3.7, 4.1,3.5,4.0,3.3,3.5, 3.9,3.3,3.8,3.1,3.3],
[4.0, 4.5,4.9,4.5,5.0,5.2, 4.8,5.4,4.9,5.5,5.3, 5.8,5.2,5.7,5.1,5.5, 5.1,5.6,5.2,5.8,5.6, 6.1,6.5,6.2,7.0,6.8, 6.3,6.0,6.3,5.9,6.2, 5.6,5.2,5.5,5.0,4.8, 4.3,3.8,4.1,3.5,3.7, 4.2,3.6,4.1,3.4,3.5, 3.0,2.5,2.9,2.2,2.5],
[4.0, 4.5,4.0,4.4,3.8,4.1, 4.6,4.0,4.5,3.8,3.9, 4.4,4.9,4.5,5.1,4.8, 5.3,4.9,5.5,5.1,5.8, 6.3,5.8,6.4,6.0,5.9, 5.4,5.8,5.2,5.6,5.2, 4.7,5.3,4.8,5.4,5.0, 5.6,5.0,5.5,4.8,4.9, 5.4,4.8,5.3,4.6,4.7, 4.2,3.7,4.0,3.4,3.3],
[4.0, 4.6,4.2,4.8,4.1,4.3, 4.8,4.4,5.0,4.7,5.4, 4.9,5.5,5.0,5.6,5.3, 5.8,5.2,5.7,5.0,5.2, 5.7,5.3,6.0,5.6,6.0, 5.5,5.0,5.4,4.8,5.0, 4.5,4.0,4.4,3.8,4.1, 4.6,4.0,4.5,3.8,4.0, 3.5,3.0,3.3,2.7,3.0, 3.4,2.8,3.3,2.6,2.8],
[4.0, 4.5,4.1,4.6,4.2,3.8, 3.3,3.7,3.1,2.6,2.7, 2.2,2.6,2.1,2.7,3.1, 3.6,4.2,4.6,5.1,5.6, 6.1,6.7,6.2,6.9,7.3, 7.8,7.4,8.0,8.2,8.3, 8.6,8.3,8.8,8.5,8.8, 9.0,8.7,9.1,8.9,9.2, 9.4,9.1,9.5,9.3,9.5, 9.7,9.4,9.8,9.6,9.8],
[4.0, 3.6,3.1,3.5,2.9,2.8, 2.3,2.8,2.2,2.7,2.5, 2.0,2.6,2.1,2.9,2.6, 3.1,3.5,3.2,3.8,4.2, 4.6,4.0,3.5,3.8,4.1, 4.5,4.0,4.4,4.2,4.6, 4.9,5.3,4.7,4.2,3.9, 4.6,4.3,4.6,4.5,4.7, 4.1,3.9,4.9,4.6,5.4, 4.8,5.4,4.7,5.5,4.4],
[4.0, 4.5,4.2,4.8,5.0,5.3, 5.5,4.9,4.6,4.1,4.2, 3.6,3.0,3.3,2.8,2.6, 2.1,2.6,2.2,2.8,2.5, 3.0,2.5,3.1,2.6,2.7, 3.2,2.7,3.3,2.8,3.0, 3.5,3.0,3.6,3.1,3.3, 3.7,3.2,3.8,3.3,3.4, 3.9,3.3,3.8,3.2,3.5, 4.0,3.6,4.2,3.8,4.2]
];

// ---- styles ----
const GREEN = 'rgba(16,185,129,0.55)';
const RED = 'rgba(244,63,94,0.55)';
const FONT = '"DejaVu Sans", sans-serif';
const SUP = {'-':'\u207B','0':'\u2070','1':'\u00B9','2':'\u00B2','3':'\u00B3','4':'\u2074','5':'\u2075','6':'\u2076','7':'\u2077','8':'\u2078','9':'\u2079'};
function powLabel(v){
  const e = Math.round(Math.log10(v));
  return '10' + String(e).split('').map(c => SUP[c]).join('');
}

function pathDatasets(paths){
  return paths.map(p => ({
    data: p.map((v, i) => ({x: tradeNumbers[i], y: Math.pow(10, v)})),
    borderColor: p[p.length - 1] > p[0] ? GREEN : RED,
    borderWidth: 1.25,
    pointRadius: 0,
    fill: false,
    tension: 0,
    order: 1
  }));
}
function startLine(){
  return {
    data: [{x: tradeNumbers[0], y: startCapital}, {x: tradeNumbers[tradeNumbers.length - 1], y: startCapital}],
    borderColor: '#111827',
    borderWidth: 2,
    borderDash: [8, 4],
    pointRadius: 0,
    fill: false,
    order: 0
  };
}

function makeChart(id, paths, title, showYLabels, yAxisWidth, padRight){
  return new Chart(document.getElementById(id), {
    type: 'line',
    data: {datasets: [startLine()].concat(pathDatasets(paths))},
    options: {
      responsive: false,
      animation: false,
      devicePixelRatio: 1,
      events: [],
      layout: {padding: {left: 0, right: padRight, top: 0, bottom: 0}},
      plugins: {
        legend: {display: false},
        tooltip: {enabled: false},
        title: {
          display: true, text: title, fullSize: false, color: '#000',
          font: {family: FONT, size: 22.6, weight: 'bold', lineHeight: 1.2},
          padding: {top: 12.4, bottom: 11.4}
        }
      },
      scales: {
        x: {
          type: 'linear', min: xTicks[0], max: xTicks[xTicks.length - 1],
          afterBuildTicks: s => { s.ticks = xTicks.map(v => ({value: v})); },
          ticks: {color: '#000', font: {family: FONT, size: 17}, padding: 4, maxRotation: 0, autoSkip: false},
          grid: {color: '#e4e7ef', lineWidth: 1, tickColor: '#000', tickLength: 6, tickWidth: 1.2},
          border: {color: '#000', width: 1.3},
          title: {display: true, text: xLabel, color: '#000', font: {family: FONT, size: 20.5}, padding: {top: 0, bottom: 11.7}},
          afterFit: s => { s.height = 71; }
        },
        y: {
          type: 'logarithmic', min: 0.005, max: 1e7,
          afterBuildTicks: s => { s.ticks = yTickExponents.map(e => ({value: Math.pow(10, e)})); },
          ticks: {color: '#000', font: {family: FONT, size: 17}, padding: 6, autoSkip: false,
                  callback: v => showYLabels ? powLabel(v) : ''},
          grid: {color: '#e4e7ef', lineWidth: 1, tickColor: '#000', tickLength: 6, tickWidth: 1.2},
          border: {color: '#000', width: 1.3},
          title: {display: showYLabels, text: yLabel, color: '#000', font: {family: FONT, size: 20.5}, padding: {top: 9.7, bottom: 0}},
          afterFit: s => { s.width = yAxisWidth; }
        }
      }
    }
  });
}

makeChart('c1', kellyPaths, panelTitles[0], true, 95, 26);
makeChart('c2', bet35Paths, panelTitles[1], false, 37, 29);
</script>
</body>
</html>
